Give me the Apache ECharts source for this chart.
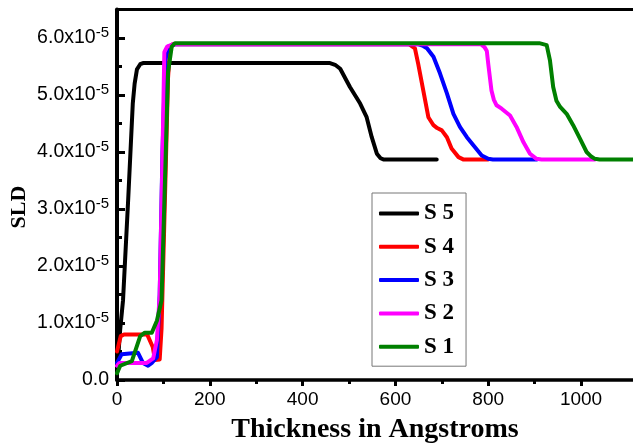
<!DOCTYPE html>
<html><head><meta charset="utf-8">
<script src="https://cdn.jsdelivr.net/npm/echarts@6/dist/echarts.min.js"></script>
<style>html,body{margin:0;padding:0;background:#fff}#c{width:633px;height:443px}</style>
</head><body><div id="c"></div>
<script>
// SLD values are in units of 1e-5
const seriesNames = ['S 5', 'S 4', 'S 3', 'S 2', 'S 1'];
const seriesColors = ['#000000', '#ff0000', '#0000ff', '#ff00ff', '#008000'];
const s5 = [[0,0.1],[3,0.45],[7,0.9],[13,1.4],[24,3.15],[34,4.85],[38,5.2],[43,5.45],[50,5.54],[56,5.56],[459,5.56],[470,5.53],[481,5.46],[502,5.14],[524,4.85],[538,4.61],[549,4.26],[560,3.97],[568,3.89],[574,3.87],[689,3.87]];
const s4 = [[0,0.5],[8,0.77],[15,0.8],[65,0.8],[77,0.58],[82,0.35],[92,0.36],[96,0.9],[104,3.4],[110,5.3],[114,5.8],[120,5.89],[630,5.89],[642,5.82],[649,5.55],[660,5.08],[671,4.61],[682,4.47],[690,4.42],[700,4.38],[711,4.26],[721,4.06],[736,3.91],[746,3.87],[800,3.87]];
const s3 = [[0,0.3],[10,0.45],[45,0.48],[56,0.3],[67,0.25],[75,0.3],[86,0.4],[92,1.5],[98,4],[104,5.6],[110,5.85],[125,5.89],[650,5.89],[660,5.86],[668,5.82],[682,5.67],[696,5.38],[711,5.03],[725,4.67],[739,4.44],[754,4.26],[768,4.12],[786,3.94],[800,3.88],[810,3.87],[905,3.87]];
const s2 = [[0,0.25],[5,0.3],[64,0.3],[78,0.38],[86,0.7],[92,1.5],[97,3.5],[102,5.75],[108,5.85],[120,5.89],[784,5.89],[792,5.84],[797,5.77],[800,5.55],[807,5.08],[812,4.92],[818,4.82],[829,4.76],[847,4.64],[861,4.44],[876,4.17],[890,3.97],[904,3.88],[915,3.87],[1030,3.87]];
const s1 = [[0,0.12],[7,0.25],[32,0.33],[50,0.77],[60,0.83],[75,0.83],[86,1.04],[96,1.4],[103,3.4],[110,5.4],[118,5.85],[125,5.91],[910,5.91],[926,5.875],[933,5.61],[940,5.14],[947,4.9],[955,4.79],[969,4.67],[983,4.47],[998,4.23],[1012,4.0],[1022,3.92],[1030,3.88],[1040,3.87],[1112,3.87]];
const seriesData = [s5, s4, s3, s2, s1];
const xMajorTicks = [0, 200, 400, 600, 800, 1000];
const xMinorTicks = [100, 300, 500, 700, 900];
const yMajorTicks = [0, 1, 2, 3, 4, 5, 6];
const yMinorTicks = [0.5, 1.5, 2.5, 3.5, 4.5, 5.5];
const xMax = 1112, yMax = 6.5;

const chart = echarts.init(document.getElementById('c'), null, {renderer: 'canvas'});
const serif = 'Liberation Serif';
const sans = 'Liberation Sans';
const option = {
  animation: false,
  backgroundColor: '#fff',
  grid: {left: 117, right: 0, top: 9.5, bottom: 63, outerBoundsMode: 'none'},
  legend: {
    orient: 'vertical', left: 372, top: 193,
    data: seriesNames,
    icon: 'roundRect',
    borderColor: '#777', borderWidth: 1, backgroundColor: '#fff',
    padding: [9, 12, 8, 7],
    itemWidth: 40, itemHeight: 4, itemGap: 10.3,
    textStyle: {fontFamily: serif, fontWeight: 'bold', fontSize: 23, lineHeight: 23, color: '#000'}
  },
  graphic: [{
    type: 'text', x: 19, y: 207, rotation: Math.PI / 2,
    style: {text: 'SLD', fontFamily: serif, fontWeight: 'bold', fontSize: 22, fill: '#000', align: 'center', verticalAlign: 'middle'}
  }],
  xAxis: [
    {type: 'value', min: 0, max: xMax, interval: 200, position: 'bottom',
     name: 'Thickness in Angstroms', nameLocation: 'middle', nameGap: 36,
     nameTextStyle: {fontFamily: serif, fontWeight: 'bold', fontSize: 28, color: '#000'},
     axisLine: {show: true, onZero: false, lineStyle: {color: '#000', width: 3.5}},
     axisTick: {show: true, inside: false, length: 6, lineStyle: {color: '#000', width: 3}, customValues: xMajorTicks},
     axisLabel: {show: true, margin: 10, fontFamily: sans, fontSize: 19, color: '#000', customValues: xMajorTicks,
       formatter: v => String(v)},
     splitLine: {show: false}},
    {type: 'value', min: 0, max: xMax, interval: 200, position: 'top',
     axisLine: {show: true, onZero: false, lineStyle: {color: '#000', width: 3}},
     axisTick: {show: false}, axisLabel: {show: false}, splitLine: {show: false}},
    {type: 'value', min: 0, max: xMax, interval: 200, position: 'bottom',
     axisLine: {show: false, onZero: false},
     axisTick: {show: true, inside: false, length: 4, lineStyle: {color: '#000', width: 3}, customValues: xMinorTicks},
     axisLabel: {show: false}, splitLine: {show: false}}
  ],
  yAxis: [
    {type: 'value', min: 0, max: yMax, interval: 1, position: 'left',
     axisLine: {show: true, onZero: false, lineStyle: {color: '#000', width: 4}},
     axisTick: {show: true, inside: true, length: 8, lineStyle: {color: '#000', width: 3}, customValues: yMajorTicks},
     axisLabel: {show: true, margin: 8, customValues: yMajorTicks,
       fontFamily: sans, fontSize: 19.5, color: '#000',
       formatter: v => v === 0 ? '{a|0.0}' : '{a|' + v.toFixed(1) + 'x10}{s|-5}',
       rich: {
         a: {fontFamily: sans, fontSize: 19.5, lineHeight: 19.5, color: '#000'},
         s: {fontFamily: sans, fontSize: 15, lineHeight: 15, padding: [0, 0, 10, 0], color: '#000'}
       }},
     splitLine: {show: false}},
    {type: 'value', min: 0, max: yMax, interval: 1, position: 'left',
     axisLine: {show: false, onZero: false},
     axisTick: {show: true, inside: true, length: 5, lineStyle: {color: '#000', width: 3}, customValues: yMinorTicks},
     axisLabel: {show: false}, splitLine: {show: false}}
  ],
  series: seriesNames.map((n, i) => ({
    name: n, type: 'line', xAxisIndex: 0, yAxisIndex: 0,
    data: seriesData[i], symbol: 'none', showSymbol: false,
    lineStyle: {color: seriesColors[i], width: 4, cap: 'round', join: 'round'},
    itemStyle: {color: seriesColors[i]},
    z: 2 + i
  }))
};
chart.setOption(option);
</script>
</body></html>
